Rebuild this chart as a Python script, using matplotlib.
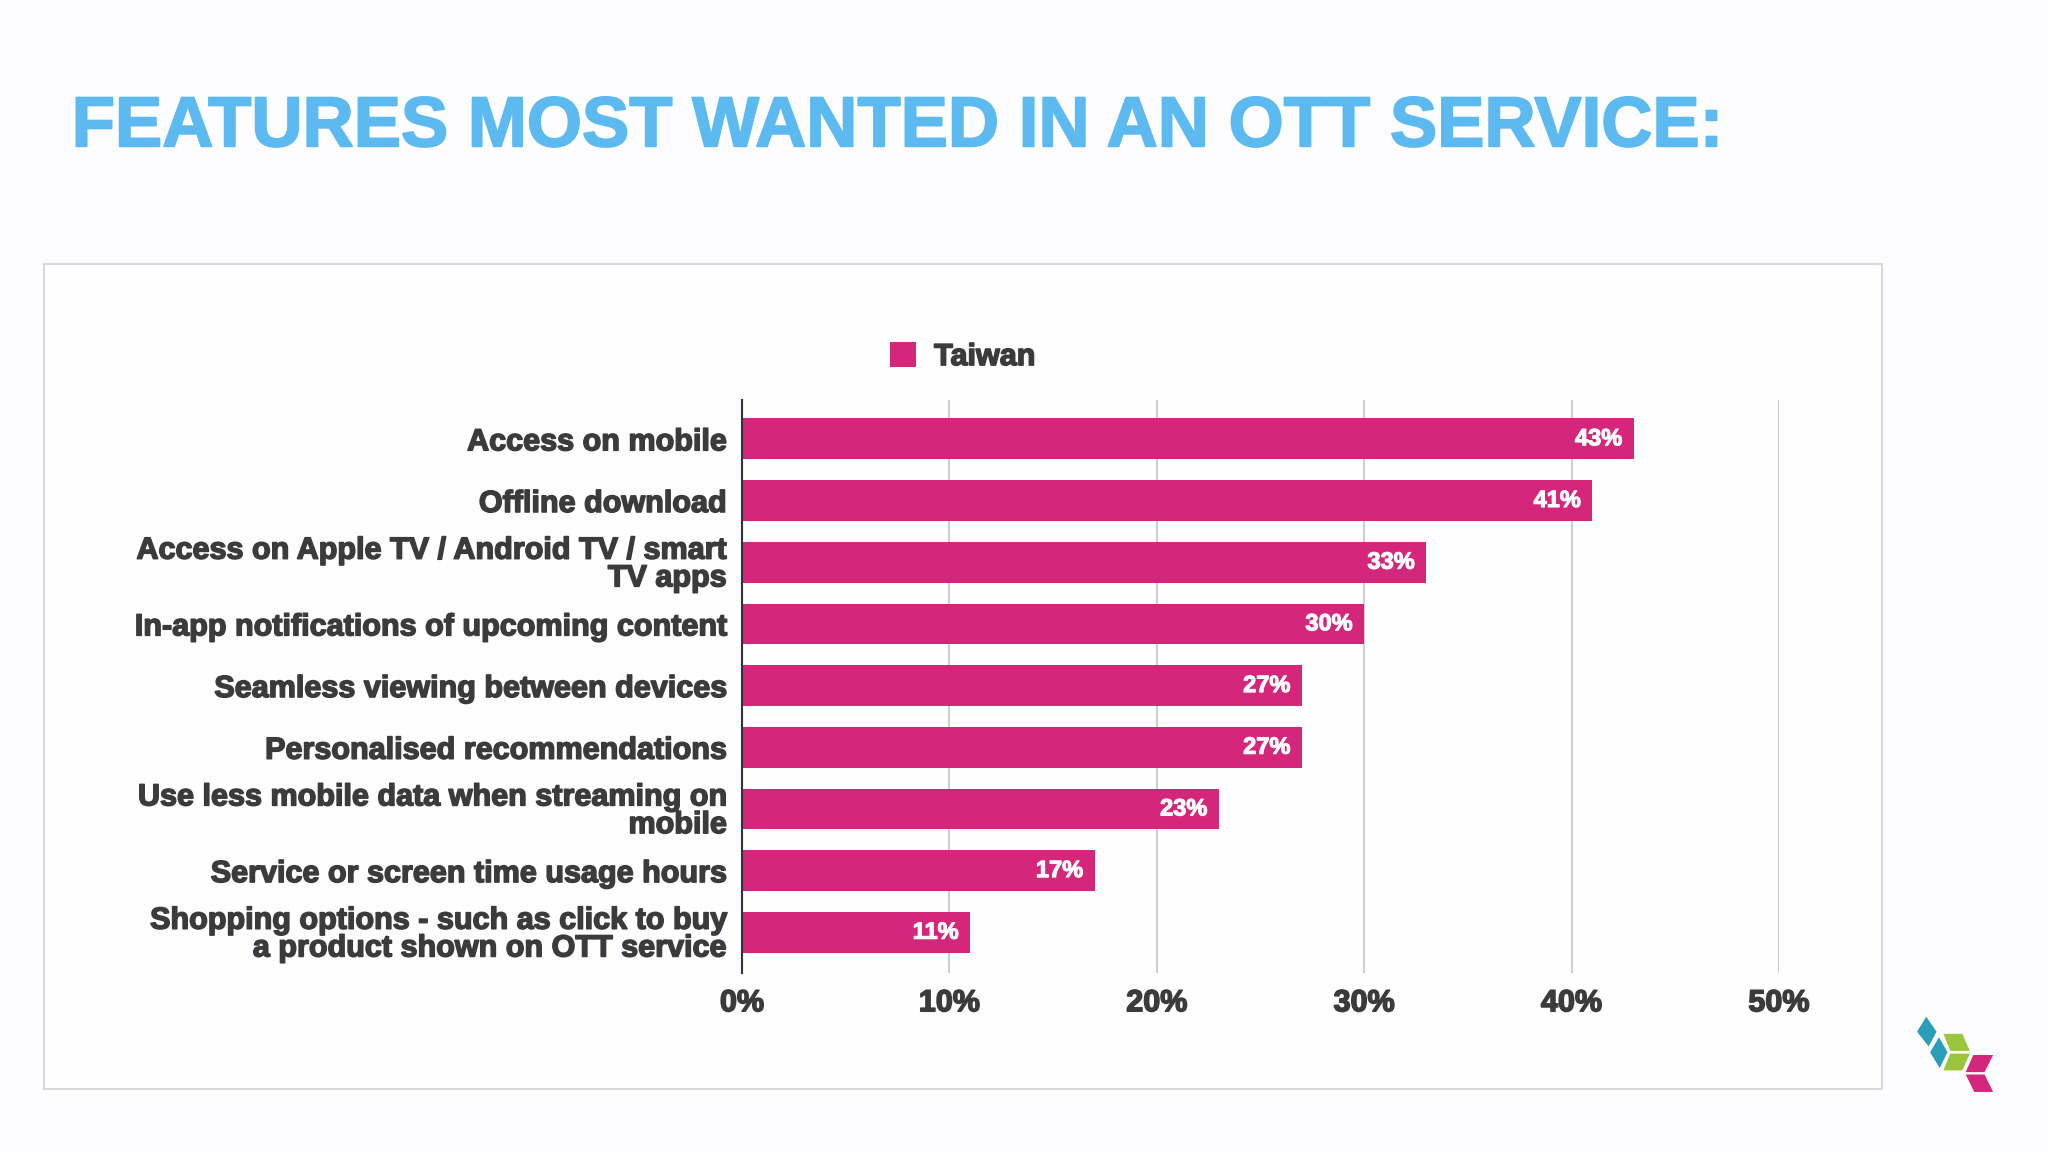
import matplotlib.pyplot as plt
import matplotlib.patheffects as pe
from matplotlib.patches import Rectangle, Polygon

# chart data
features = [
    "Access on mobile",
    "Offline download",
    "Access on Apple TV / Android TV / smart\nTV apps",
    "In-app notifications of upcoming content",
    "Seamless viewing between devices",
    "Personalised recommendations",
    "Use less mobile data when streaming on\nmobile",
    "Service or screen time usage hours",
    "Shopping options - such as click to buy\na product shown on OTT service",
]
taiwan = [43, 41, 33, 30, 27, 27, 23, 17, 11]
xticks = [0, 10, 20, 30, 40, 50]

bar_color = "#D4267A"
text_color = "#3b3b3b"
font = "Liberation Sans"


def heavy(color, w=1.1):
    # thicken the bold font a little, the original uses a heavier face
    return [pe.withStroke(linewidth=w, foreground=color)]


fig = plt.figure(figsize=(20.48, 11.52), dpi=100, facecolor="#fdfcfe")

# title
fig.text(0.035, 0.873, "FEATURES MOST WANTED IN AN OTT SERVICE:", fontsize=51,
         fontweight="bold", color="#5DBAF1", family=font, va="baseline", ha="left",
         path_effects=heavy("#5DBAF1", 1.3))

# chart frame
fig.patches.append(Rectangle((0.0215, 0.0547), 0.8975, 0.716, transform=fig.transFigure,
                             facecolor="#fefdff", edgecolor="#d9d9d9", linewidth=1.5, zorder=-1))

ax = fig.add_axes([0.3623, 0.1554, 0.5063, 0.4974])
ax.set_facecolor("none")
y = list(range(len(features)))
bars = ax.barh(y, taiwan, height=0.66, color=bar_color, label="Taiwan", zorder=3)
for yi, v in zip(y, taiwan):
    ax.text(v - 0.55, yi, f"{v}%", ha="right", va="center", color="white",
            fontsize=17, fontweight="bold", family=font, zorder=4,
            path_effects=heavy("white", 0.8))

ax.set_xlim(0, 50)
ax.set_ylim(8.66, -0.63)
ax.set_xticks(xticks)
ax.set_xticklabels([f"{t}%" for t in xticks])
ax.set_yticks(y)
ax.set_yticklabels(features, linespacing=0.9)
ax.tick_params(length=0, pad=11)
for lab in ax.get_xticklabels() + ax.get_yticklabels():
    lab.set_fontsize(22)
    lab.set_fontweight("bold")
    lab.set_family(font)
    lab.set_color(text_color)
    lab.set_path_effects(heavy(text_color))
ax.grid(axis="x", color="#cfcfcf", linewidth=1.5, zorder=1)
for s in ["top", "right", "bottom"]:
    ax.spines[s].set_visible(False)
ax.spines["left"].set_color("#333333")
ax.spines["left"].set_linewidth(1.5)
ax.spines["left"].set_zorder(5)

leg = ax.legend(loc="center", bbox_to_anchor=(0.470, 0.690), bbox_transform=fig.transFigure,
                frameon=False, handlelength=0.85, handleheight=0.85, handletextpad=0.6,
                prop={"family": font, "weight": "bold", "size": 22})
for t in leg.get_texts():
    t.set_color(text_color)
    t.set_path_effects(heavy(text_color))

# small logo in the corner
lax = fig.add_axes([1880 / 2048, 1 - 1120 / 1152, 168 / 2048, 130 / 1152])
lax.set_xlim(0, 490)
lax.set_ylim(380, 0)
lax.axis("off")
logo = [
    ("#2A9DB8", [(135, 78), (165, 122), (142, 165), (108, 122)]),
    ("#2A9DB8", [(172, 138), (197, 182), (174, 228), (146, 182)]),
    ("#9BC53D", [(185, 128), (240, 128), (262, 178), (205, 178)]),
    ("#9BC53D", [(205, 186), (262, 186), (240, 235), (185, 235)]),
    ("#D4267A", [(272, 190), (330, 190), (305, 240), (250, 240)]),
    ("#D4267A", [(250, 247), (305, 247), (330, 298), (275, 298)]),
]
for c, pts in logo:
    lax.add_patch(Polygon(pts, closed=True, facecolor=c, edgecolor="none"))

plt.savefig("out.png", dpi=100, facecolor=fig.get_facecolor())
